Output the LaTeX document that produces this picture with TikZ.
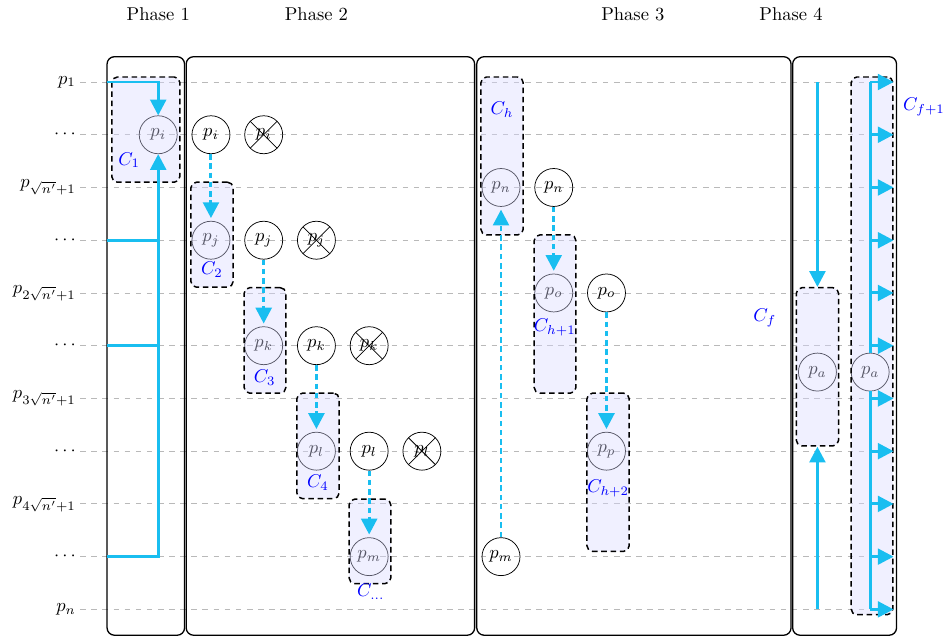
\documentclass[tikz,border=0pt]{standalone}
\usetikzlibrary{arrows.meta,fit}
\definecolor{arr}{RGB}{25,190,240}
\tikzset{
  pnode/.style={circle,draw,minimum size=0.72cm,inner sep=0pt},
  xnode/.style={pnode,path picture={
      \draw (path picture bounding box.north west) -- (path picture bounding box.south east);
      \draw (path picture bounding box.south west) -- (path picture bounding box.north east);}},
  gridline/.style={gray!55,dashed,line width=0.5pt},
  phasebox/.style={draw,line width=0.7pt,rounded corners=4pt,inner sep=0pt},
  cbox/.style={draw,thick,dash pattern=on 3pt off 2pt,rounded corners=3pt,
    fill=blue!15,fill opacity=0.4,inner sep=0pt},
  aline/.style={arr,line width=1.6pt},
  arrline/.style={aline,-{Triangle[length=3mm,width=3mm]}},
  dasharr/.style={arrline,dash pattern=on 3pt off 2pt,shorten >=1.5pt},
  clabel/.style={text=blue},
  rowlab/.style={anchor=east},
}
\begin{document}
\begin{tikzpicture}
\useasboundingbox (0,1.555) rectangle (17.9,-10.523);
% grid
\foreach \r in {0,...,10} \draw[gridline] (1.52,-\r) -- (16.93,-\r);
% row labels
\node[rowlab] (r0) at (1.56,0) {$p_1$};
\node[rowlab] (r1) at (1.56,-1) {$\cdots$};
\node[rowlab] (r2) at (1.56,-2) {$p_{\sqrt{n'}+1}$};
\node[rowlab] (r3) at (1.56,-3) {$\cdots$};
\node[rowlab] (r4) at (1.56,-4) {$p_{2\sqrt{n'}+1}$};
\node[rowlab] (r5) at (1.56,-5) {$\cdots$};
\node[rowlab] (r6) at (1.56,-6) {$p_{3\sqrt{n'}+1}$};
\node[rowlab] (r7) at (1.56,-7) {$\cdots$};
\node[rowlab] (r8) at (1.56,-8) {$p_{4\sqrt{n'}+1}$};
\node[rowlab] (r9) at (1.56,-9) {$\cdots$};
\node[rowlab] (r10) at (1.56,-10) {$p_n$};
% phase boxes
\node[phasebox,fit={(2.03,0.48) (3.5,-10.49)}] (ph1) {};
\node[phasebox,fit={(3.53,0.48) (9.0,-10.49)}] (ph2) {};
\node[phasebox,fit={(9.04,0.48) (15.0,-10.49)}] (ph3) {};
\node[phasebox,fit={(15.03,0.48) (17.0,-10.49)}] (ph4) {};
\node (t1) at (3,1.29) {Phase 1};
\node (t2) at (6,1.29) {Phase 2};
\node (t3) at (12,1.29) {Phase 3};
\node (t4) at (15,1.29) {Phase 4};
% circles
\node[pnode] (pi1) at (3,-1) {$p_i$};
\node[pnode] (pi2) at (4,-1) {$p_i$};
\node[xnode] (xi) at (5,-1) {$p_i$};
\node[pnode] (pj1) at (4,-3) {$p_j$};
\node[pnode] (pj2) at (5,-3) {$p_j$};
\node[xnode] (xj) at (6,-3) {$p_j$};
\node[pnode] (pk1) at (5,-5) {$p_k$};
\node[pnode] (pk2) at (6,-5) {$p_k$};
\node[xnode] (xk) at (7,-5) {$p_k$};
\node[pnode] (pl1) at (6,-7) {$p_l$};
\node[pnode] (pl2) at (7,-7) {$p_l$};
\node[xnode] (xl) at (8,-7) {$p_l$};
\node[pnode] (pm1) at (7,-9) {$p_m$};
\node[pnode] (pn1) at (9.5,-2) {$p_n$};
\node[pnode] (pn2) at (10.5,-2) {$p_n$};
\node[pnode] (po1) at (10.5,-4) {$p_o$};
\node[pnode] (po2) at (11.5,-4) {$p_o$};
\node[pnode] (pp) at (11.5,-7) {$p_p$};
\node[pnode] (pm2) at (9.5,-9) {$p_m$};
\node[pnode] (pa1) at (15.5,-5.5) {$p_a$};
\node[pnode] (pa2) at (16.5,-5.5) {$p_a$};
% C boxes
\node[cbox,fit={(2.12,0.095) (3.41,-1.9)}] (C1) {};
\node[cbox,fit={(3.62,-1.9) (4.42,-3.89)}] (C2) {};
\node[cbox,fit={(4.63,-3.9) (5.42,-5.9)}] (C3) {};
\node[cbox,fit={(5.63,-5.9) (6.43,-7.9)}] (C4) {};
\node[cbox,fit={(6.62,-7.91) (7.41,-9.51)}] (C5) {};
\node[cbox,fit={(9.12,0.095) (9.92,-2.9)}] (Ch) {};
\node[cbox,fit={(10.13,-2.9) (10.92,-5.9)}] (Ch1) {};
\node[cbox,fit={(11.13,-5.9) (11.93,-8.9)}] (Ch2) {};
\node[cbox,fit={(15.1,-3.9) (15.9,-6.9)}] (Cf) {};
\node[cbox,fit={(16.14,0.095) (16.93,-10.1)}] (Cf1) {};
% C labels
\node[clabel] (lC1) at (2.45,-1.48) {$C_1$};
\node[clabel] (lC2) at (4.02,-3.56) {$C_2$};
\node[clabel] (lC3) at (5.02,-5.61) {$C_3$};
\node[clabel] (lC4) at (6.03,-7.6) {$C_4$};
\node[clabel] (lC5) at (7.03,-9.67) {$C_{\dots}$};
\node[clabel] (lCh) at (9.52,-0.53) {$C_h$};
\node[clabel] (lCh1) at (10.52,-4.66) {$C_{h+1}$};
\node[clabel] (lCh2) at (11.53,-7.7) {$C_{h+2}$};
\node[clabel] (lCf) at (14.5,-4.47) {$C_f$};
\node[clabel] (lCf1) at (17.52,-0.47) {$C_{f+1}$};
% phase 1 arrows
\coordinate (L0) at (2.03,0);
\coordinate (L3) at (2.03,-3);
\coordinate (L5) at (2.03,-5);
\coordinate (L9) at (2.03,-9);
\draw[arrline] (L0) -| (pi1.north);
\draw[arrline] (L9) -| (pi1.south);
\draw[aline] (L3) -- (L3 -| pi1);
\draw[aline] (L5) -- (L5 -| pi1);
% phase 2 arrows
\draw[dasharr] (pi2) -- (pj1);
\draw[dasharr] (pj2) -- (pk1);
\draw[dasharr] (pk2) -- (pl1);
\draw[dasharr] (pl2) -- (pm1);
% phase 3 arrows
\draw[dasharr] (pm2) -- (pn1);
\draw[dasharr] (pn2) -- (po1);
\draw[dasharr] (po2) -- (pp);
% phase 4 arrows
\coordinate (F0) at (15.5,0);
\coordinate (F10) at (15.5,-10);
\draw[arrline] (F0) -- (F0 |- Cf.north);
\draw[arrline] (F10) -- (F10 |- Cf.south);
\coordinate (G0) at (16.5,0);
\coordinate (G10) at (16.5,-10);
\draw[aline] (G0) -- (pa2.north);
\draw[aline] (pa2.south) -- (G10);
\foreach \r in {0,...,10} {
  \coordinate (S\r) at (16.5,-\r);
  \draw[arrline] (S\r) -- (S\r -| Cf1.east);
}
\end{tikzpicture}
\end{document}
